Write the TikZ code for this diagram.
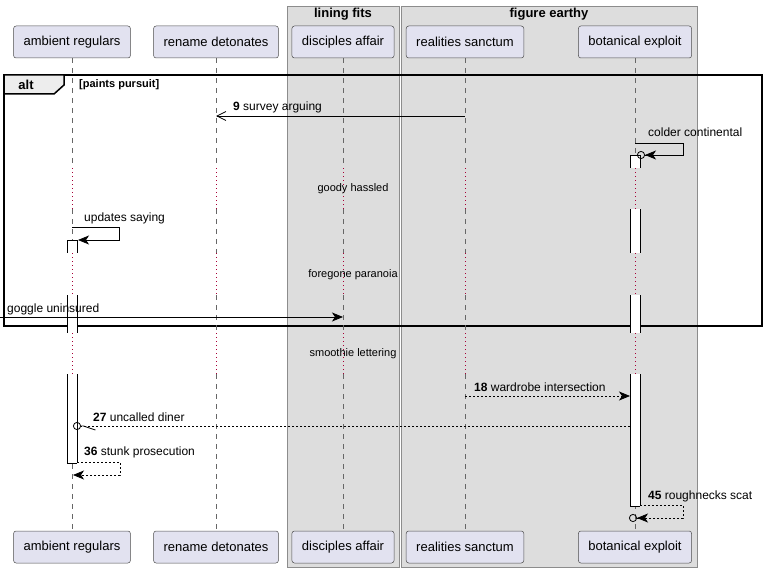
\documentclass[tikz,border=0pt]{standalone}
\usepackage{fontspec}
\setmainfont{Liberation Sans}
\usetikzlibrary{arrows.meta,positioning}
\definecolor{partfill}{HTML}{E2E2F0}
\definecolor{boxfill}{HTML}{DDDDDD}
\definecolor{delaydot}{HTML}{A80036}
\tikzset{
  part/.style={draw=black!70,line width=0.5pt,fill=partfill,rounded corners=2.5pt,
    minimum height=32pt,inner xsep=10pt,font=\fontsize{13}{15}\selectfont},
  grp/.style={fill=boxfill,draw=black!45,line width=0.8pt},
  grptitle/.style={inner sep=0pt,font=\fontsize{13}{15}\selectfont\bfseries},
  lifeline/.style={black!60,line width=0.5pt,dash pattern=on 5pt off 5pt},
  delayline/.style={delaydot,line width=0.8pt,dash pattern=on 1pt off 3pt},
  bar/.style={fill=white,draw=none},
  barline/.style={black,line width=0.8pt},
  msg/.style={line width=0.8pt},
  reply/.style={msg,dash pattern=on 2pt off 2pt},
  lbl/.style={anchor=west,inner sep=0pt,font=\fontsize{12}{14}\selectfont},
  delaytxt/.style={inner sep=0pt,font=\fontsize{11}{13}\selectfont},
  tipfull/.tip={Stealth[length=11pt,width=9pt,inset=3pt]},
  tipopen/.tip={Straight Barb[length=9pt,width=9pt,line width=0.8pt]},
  tiphalf/.tip={Straight Barb[harpoon,length=12pt,width=8pt,line width=0.8pt]},
  tipcirc/.tip={Circle[open,length=8pt,width=8pt,line width=0.8pt]},
}
\begin{document}
\begin{tikzpicture}[x=1pt,y=-1pt]
  \useasboundingbox (0,0) rectangle (767,572);
  % boxes
  \draw[grp] (287,6) rectangle (399,567);
  \draw[grp] (401,6) rectangle (697,567);
  \node[grptitle] (g1) at (343,14) {lining fits};
  \node[grptitle] (g2) at (549,14) {figure earthy};

  % alt frame
  \draw[line width=1.5pt] (4,75) rectangle (762,326);
  \draw[line width=1.5pt,fill=black!7] (4,75) -- (64,75) -- (64,85) -- (54,94) -- (4,94) -- cycle;
  \node[grptitle] (alt) at (26,85) {alt};
  \node[lbl,font=\fontsize{11}{13}\selectfont\bfseries] (cond) at (79,85) {[paints pursuit]};

  % participants
  \node[part] (amb) at (72,42)  {ambient regulars};
  \node[part] (ren) at (216,42) {rename detonates};
  \node[part] (dis) at (343,42) {disciples affair};
  \node[part] (rea) at (465,42) {realities sanctum};
  \node[part] (bot) at (635,42) {botanical exploit};
  \node[part] (amb2) at (72,547)  {ambient regulars};
  \node[part] (ren2) at (216,547) {rename detonates};
  \node[part] (dis2) at (343,547) {disciples affair};
  \node[part] (rea2) at (465,547) {realities sanctum};
  \node[part] (bot2) at (635,547) {botanical exploit};

  % lifelines
  \foreach \p in {amb,ren,dis,rea,bot}{
    \draw[lifeline] (\p.south) -- (\p |- 0,168);
    \foreach \a/\b in {209/253,295/333}
      \draw[lifeline] (\p |- 0,\a) -- (\p |- 0,\b);
    \draw[lifeline] (\p |- 0,374) -- (\p2.north);
    \foreach \a/\b in {168/209,253/295,333/374}
      \draw[delayline] (\p |- 0,\a) -- (\p |- 0,\b);
  }

  % activations
  \foreach \x/\a/\b in {635/155/168,635/209/253,635/295/333,635/374/506,72/240/253,72/295/333,72/374/463}{
    \fill[bar] (\x-5,\a) rectangle (\x+5,\b);
    \draw[barline] (\x-5,\a) -- (\x-5,\b) (\x+5,\a) -- (\x+5,\b);
  }
  \draw[barline] (630,155) -- (640,155) (630,506) -- (640,506);
  \draw[barline] (67,240) -- (77,240) (67,463) -- (77,463);

  % delays
  \node[delaytxt] (d1) at (353,189) {goody hassled};
  \node[delaytxt] (d2) at (353,275) {foregone paranoia};
  \node[delaytxt] (d3) at (353,354) {smoothie lettering};

  % messages
  \coordinate (left) at (0,317);
  \draw[msg,-tipopen] (rea |- 0,116) -- (ren |- 0,116);
  \node[lbl] (m9) at (233,107) {\textbf{9} survey arguing};
  \draw[msg,-{tipfull[]tipcirc[]}] (bot |- 0,143) -- ++(48,0) |- ([xshift=2pt]bot |- 0,155);
  \node[lbl] (mc) at (648,132) {colder continental};
  \draw[msg,-tipfull] (amb |- 0,227) -- ++(47,0) |- ([xshift=6pt]amb |- 0,240);
  \node[lbl] (mu) at (84,218) {updates saying};
  \draw[msg,-tipfull] (left) -- (dis |- left);
  \node[lbl] (mg) at (7,309) {goggle uninsured};
  \draw[reply,-tipfull] (rea |- 0,396) -- ([xshift=-5pt]bot |- 0,396);
  \node[lbl] (m18) at (474,387) {\textbf{18} wardrobe intersection};
  \draw[reply,-{tiphalf[]tipcirc[]}] ([xshift=-5pt]bot |- 0,426) -- ([xshift=1pt]amb |- 0,426);
  \node[lbl] (m27) at (93,417) {\textbf{27} uncalled diner};
  \draw[reply,-tipfull] ([xshift=5pt]amb |- 0,462) -- ++(43,0) |- ([xshift=1pt]amb |- 0,475);
  \node[lbl] (m36) at (84,452) {\textbf{36} stunk prosecution};
  \draw[reply,-{tipfull[]tipcirc[]}] ([xshift=5pt]bot |- 0,505) -- ++(43,0) |- ([xshift=-6pt]bot |- 0,518);
  \node[lbl] (m45) at (648,496) {\textbf{45} roughnecks scat};
\end{tikzpicture}
\end{document}
